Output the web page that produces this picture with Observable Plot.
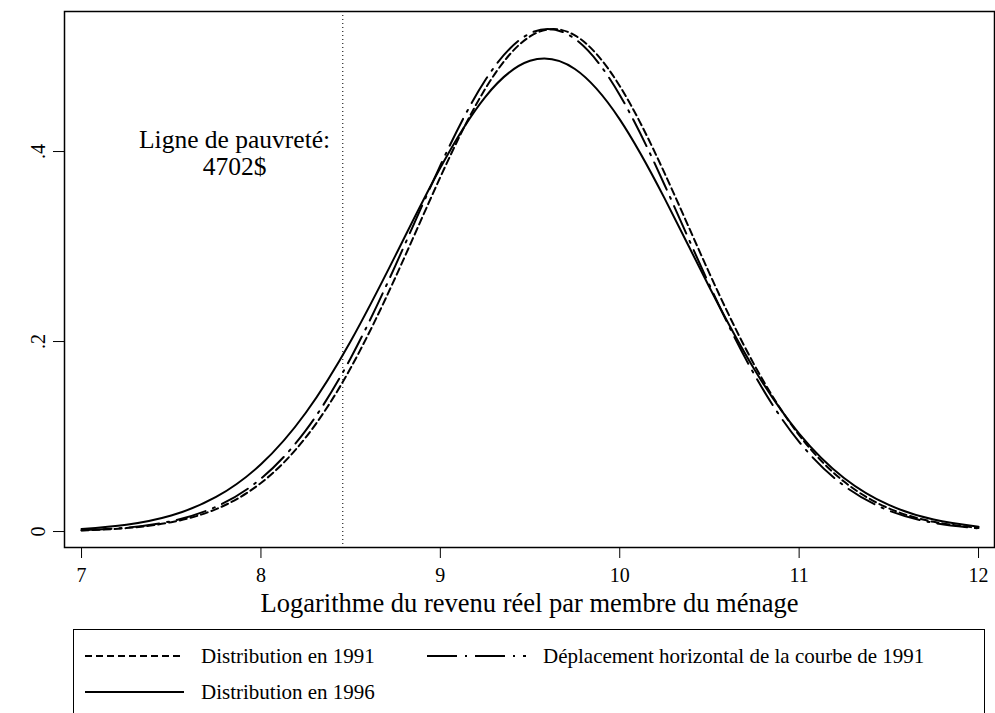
<!DOCTYPE html>
<html>
<head>
<meta charset="utf-8">
<script src="https://cdn.jsdelivr.net/npm/d3@7"></script>
<script src="https://cdn.jsdelivr.net/npm/@observablehq/plot@0.6"></script>
<style>
  html, body { margin: 0; padding: 0; background: #fff; }
  #wrap { position: relative; width: 995px; height: 713px; overflow: hidden; font-family: "Liberation Serif", "Times New Roman", serif; }
  #wrap > svg { position: absolute; left: 0; top: 0; }
  #legend { position: absolute; left: 73px; top: 629px; width: 912px; height: 120px; border: 1.3px solid #000; box-sizing: border-box; background: #fff; }
  .item { position: absolute; display: flex; align-items: center; font-size: 21px; color: #000; white-space: nowrap; }
  .item svg { margin-right: 17px; }
</style>
</head>
<body>
<div id="wrap"></div>
<script>
// Log income grid (x values)
const xGrid = [7, 7.25, 7.5, 7.75, 8, 8.25, 8.5, 8.75, 9, 9.25, 9.5, 9.75, 10, 10.25, 10.5, 10.75, 11, 11.25, 11.5, 11.75, 12];
// Densities
const dist1991 = [0.0012, 0.0036, 0.0098, 0.0236, 0.0511, 0.0991, 0.1721, 0.2677, 0.3731, 0.4659, 0.5212, 0.5223, 0.4690, 0.3772, 0.2718, 0.1755, 0.1015, 0.0526, 0.0244, 0.0102, 0.0038];
const dist1996 = [0.0027, 0.0072, 0.0169, 0.0364, 0.0708, 0.1250, 0.2003, 0.2907, 0.3829, 0.4574, 0.4955, 0.4869, 0.4339, 0.3507, 0.2571, 0.1709, 0.1031, 0.0564, 0.0280, 0.0126, 0.0051];
const shift1991 = [0.0014, 0.0041, 0.0109, 0.0261, 0.0557, 0.1065, 0.1825, 0.2802, 0.3854, 0.4750, 0.5244, 0.5186, 0.4596, 0.3648, 0.2595, 0.1653, 0.0944, 0.0483, 0.0221, 0.0091, 0.0033];

const xTicks = [7, 8, 9, 10, 11, 12];
const yTicks = [0, 0.2, 0.4];
const povertyLine = [8.456];
const annotation = [{x: 7.853, y: 0.399, label: "Ligne de pauvreté:\n4702$"}];

const seriesNames = ["Distribution en 1991", "Distribution en 1996", "Déplacement horizontal de la courbe de 1991"];
const dashes = {"Distribution en 1991": "7,4", "Distribution en 1996": null, "Déplacement horizontal de la courbe de 1991": "30,8,2,8"};

function rows(vals, name) { return xGrid.map((x, i) => ({x, y: vals[i], series: name})); }
const d91 = rows(dist1991, seriesNames[0]);
const d96 = rows(dist1996, seriesNames[1]);
const dsh = rows(shift1991, seriesNames[2]);

const font = '"Liberation Serif", "Times New Roman", serif';
const yfmt = d => d === 0 ? "0" : String(d).replace(/^0\./, ".");

const chart = Plot.plot({
  width: 995,
  height: 628,
  marginLeft: 64,
  marginRight: 1,
  marginTop: 11,
  marginBottom: 81,
  style: {fontFamily: font, background: "transparent", color: "#000"},
  x: {domain: [6.905, 12.089]},
  y: {domain: [-0.0168, 0.5474]},
  marks: [
    Plot.ruleX(povertyLine, {stroke: "#222", strokeWidth: 1.2, strokeDasharray: "1,3"}),
    Plot.line(d91, {x: "x", y: "y", curve: "natural", stroke: "#000", strokeWidth: 2, strokeDasharray: dashes[seriesNames[0]]}),
    Plot.line(dsh, {x: "x", y: "y", curve: "natural", stroke: "#000", strokeWidth: 2, strokeDasharray: dashes[seriesNames[2]]}),
    Plot.line(d96, {x: "x", y: "y", curve: "natural", stroke: "#000", strokeWidth: 2}),
    Plot.text(annotation, {x: "x", y: "y", text: "label", fontSize: 25.5, lineHeight: 1.06, textAnchor: "middle", fill: "#000"}),
    Plot.axisX({ticks: xTicks, tickSize: 11, tickPadding: 9, fontSize: 20, tickFormat: d => String(d),
      label: "Logarithme du revenu réel par membre du ménage", labelAnchor: "center", labelArrow: "none", labelOffset: 64}),
    Plot.axisY({ticks: yTicks, tickSize: 11, tickPadding: 9, fontSize: 20, tickRotate: -90, tickFormat: yfmt, label: null}),
    Plot.frame({stroke: "#000", strokeWidth: 1.5})
  ]
});
// enlarge axis label font
chart.querySelectorAll("text").forEach(t => {
  if (t.textContent.startsWith("Logarithme")) t.setAttribute("font-size", 26.5);
});
document.getElementById("wrap").appendChild(chart);

// Legend (HTML below the SVG)
const legend = document.createElement("div");
legend.id = "legend";
const items = [
  {name: seriesNames[0], left: 11, top: 26},
  {name: seriesNames[2], left: 353, top: 26},
  {name: seriesNames[1], left: 11, top: 62}
];
for (const it of items) {
  const div = document.createElement("div");
  div.className = "item";
  div.style.left = it.left + "px";
  div.style.top = (it.top - 13) + "px";
  div.style.height = "26px";
  const dash = dashes[it.name];
  div.innerHTML = `<svg width="99" height="10"><line x1="0" y1="5" x2="99" y2="5" stroke="#000" stroke-width="2" ${dash ? `stroke-dasharray="${dash}"` : ""}/></svg><span>${it.name}</span>`;
  legend.appendChild(div);
}
document.getElementById("wrap").appendChild(legend);
</script>
</body>
</html>
